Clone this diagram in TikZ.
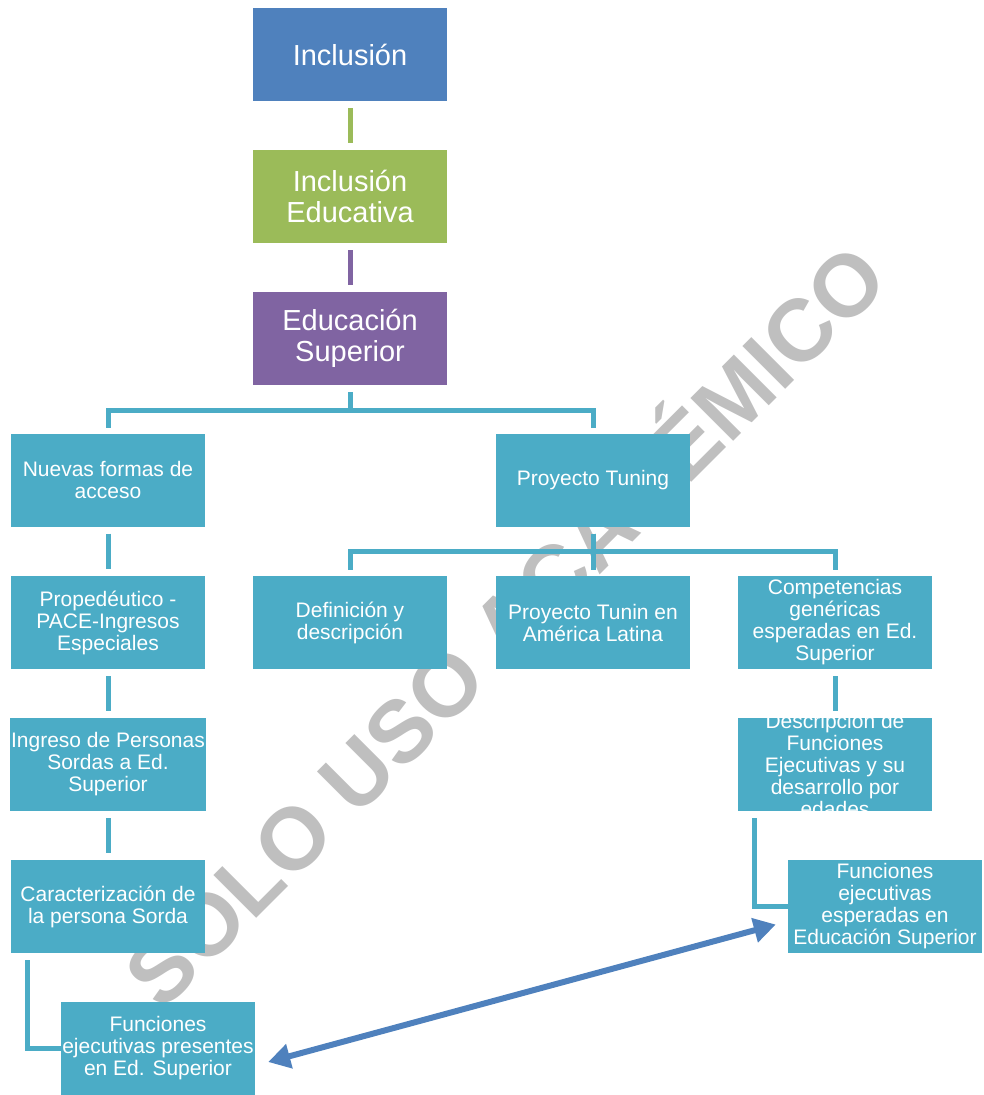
\documentclass[tikz,border=0pt]{standalone}
\usepackage{fontspec}
\setmainfont{Liberation Sans}
\usetikzlibrary{arrows.meta}
\definecolor{azul}{HTML}{4F81BD}
\definecolor{verde}{HTML}{9BBB59}
\definecolor{morado}{HTML}{8064A2}
\definecolor{turquesa}{HTML}{4BACC6}
\definecolor{marca}{HTML}{BFBFBF}

\begin{document}
\begin{tikzpicture}[x=1pt, y=-1pt,
    caja/.style={minimum width=194pt, minimum height=93pt, inner sep=1pt,
        align=center, text=white, fill=turquesa,
        font=\fontsize{21}{22}\selectfont},
    cajagrande/.style={caja, font=\fontsize{29}{31}\selectfont},
    enlace/.style={line width=5pt, shorten <=7pt, shorten >=7pt},
    rama/.style={line width=5pt, color=turquesa}]
    \useasboundingbox (0,0) rectangle (984,1095);

    % marca de agua
    \node[rotate=45, text=marca, font=\fontsize{88}{88}\selectfont\bfseries]
        (marca) at (500,620) {SOLO USO ACADÉMICO};

    \draw (350,54.5) node(inc) [cajagrande, fill=azul] {Inclusión};
    \draw (350,196.5) node(ied) [cajagrande, fill=verde] {Inclusión\\Educativa};
    \draw (350,338.5) node(esup) [cajagrande, fill=morado] {Educación\\Superior};

    \draw (108,480) node(nfa) [caja] {Nuevas formas de\\acceso};
    \draw (593,480) node(tun) [caja] {Proyecto Tuning};

    \draw (350,622.5) node(def) [caja] {Definición y\\descripción};
    \draw (593,622.5) node(tal) [caja] {Proyecto Tunin en\\América Latina};
    \draw (835,622.5) node(comp) [caja] {Competencias\\genéricas\\esperadas en Ed.\\Superior};

    \draw (108,622.5) node(prop) [caja] {Propedéutico -\\PACE-Ingresos\\Especiales};
    \draw (108,764.5) node(ips) [caja] {Ingreso de Personas\\Sordas a Ed.\\Superior};
    \draw (108,906.5) node(car) [caja] {Caracterización de\\la persona Sorda};
    \draw (158,1048) node(fep) [caja] {Funciones\\ejecutivas presentes\\en Ed. Superior};

    \draw (835,764.5) node(desc) [caja] {};
    \begin{scope}
        \clip (desc.south west) rectangle (desc.north east);
        \node[caja, fill=none] (desct) at (desc.center)
            {Descripción de\\Funciones\\Ejecutivas y su\\desarrollo por\\edades};
    \end{scope}
    \draw (885,906.5) node(fee) [caja] {Funciones\\ejecutivas\\esperadas en\\Educación Superior};

    % conectores
    \draw[enlace, verde] (inc) -- (ied);
    \draw[enlace, morado] (ied) -- (esup);
    \draw[rama] ([yshift=-7pt]esup.south) -- ++(0,18) -| ([yshift=5pt]nfa.north);
    \draw[rama] ([yshift=-7pt]esup.south) -- ++(0,18) -| ([yshift=5pt]tun.north);
    \draw[rama] ([yshift=-7pt]tun.south) -- ++(0,18) -| ([yshift=6pt]def.north);
    \draw[rama] ([yshift=-7pt]tun.south) -- ++(0,18) -| ([yshift=6pt]tal.north);
    \draw[rama] ([yshift=-7pt]tun.south) -- ++(0,18) -| ([yshift=6pt]comp.north);
    \draw[enlace, turquesa] (nfa) -- (prop);
    \draw[enlace, turquesa] (prop) -- (ips);
    \draw[enlace, turquesa] (ips) -- (car);
    \draw[enlace, turquesa] (comp) -- (desc);
    \draw[rama] ([xshift=17pt,yshift=-7pt]car.south west) |- (fep.west);
    \draw[rama] ([xshift=17pt,yshift=-7pt]desc.south west) |- (fee.west);

    \draw[azul, line width=6pt, {Triangle[length=22pt,width=24pt]}-{Triangle[length=22pt,width=24pt]}]
        ([xshift=13pt,yshift=-14pt]fep.east) -- ([xshift=-12pt,yshift=-18pt]fee.west);
\end{tikzpicture}
\end{document}
